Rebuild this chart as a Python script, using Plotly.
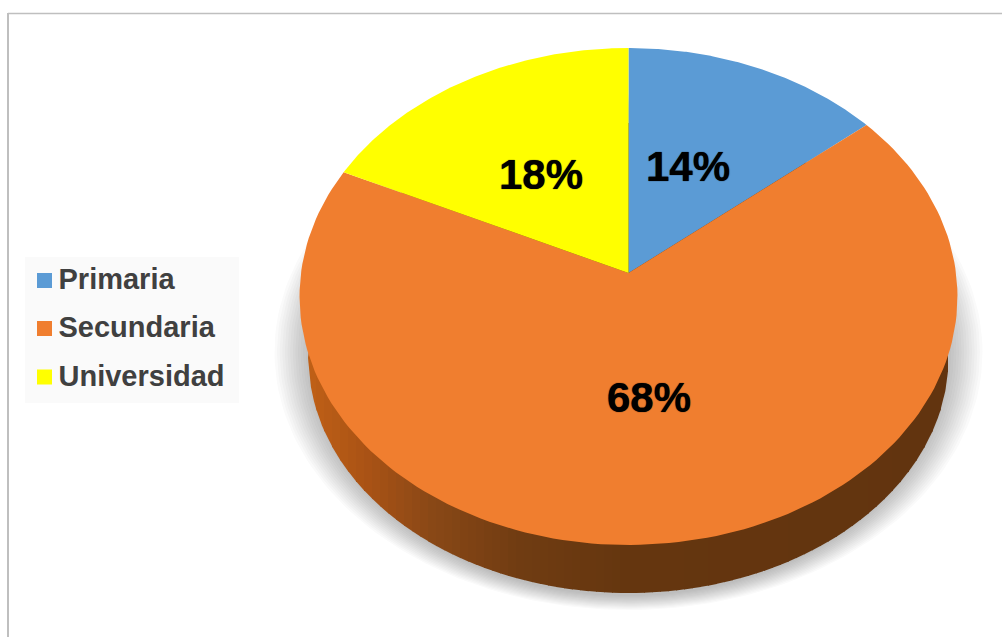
import numpy as np
import plotly.graph_objects as go

# Data
categories = ["Primaria", "Secundaria", "Universidad"]
percentages = [14, 68, 18]
slice_colors = ["#5B9BD5", "#F07E2F", "#FFFF00"]

# Canvas and tilted-disc geometry, in pixels
WIDTH, HEIGHT = 1002, 637
APEX_X, APEX_Y = 628.5, 273      # where the slices meet
TOP_RISE, BOTTOM_DROP = 225, 272  # apex to far rim / near rim
HALF_WIDTH = 327.5
PERSPECTIVE = (BOTTOM_DROP - TOP_RISE) / (BOTTOM_DROP + TOP_RISE)
VERTICAL_SCALE = TOP_RISE * (1 + PERSPECTIVE)

# Rim of the underside of the disc
BASE_CY, BASE_RX, BASE_RY = 358, 320, 235

LABEL_CENTRES = {"Primaria": (688, 170), "Secundaria": (649, 401), "Universidad": (541, 178)}
SWATCH_X = 44.5
LEGEND_TEXT_X = 58.5
SWATCH_ROWS = [280.5, 328.5, 377]
LEGEND_TEXT_ROWS = [282, 330, 379]

# Side-wall shading: x position and colour stops
WALL_STOPS_X = [308, 370, 430, 520, 628, 948]
WALL_STOPS_RGB = [(192, 96, 22), (168, 82, 21), (138, 72, 22), (112, 60, 18), (101, 54, 15), (98, 52, 15)]


def project(theta):
    """Map clockwise-from-north angles on the disc onto the tilted view."""
    u, v = np.sin(theta), np.cos(theta)
    d = 1 + PERSPECTIVE * v
    return APEX_X + HALF_WIDTH * u / d, APEX_Y - VERTICAL_SCALE * v / d


def ellipse(cx, cy, rx, ry, n=240):
    t = np.linspace(0, 2 * np.pi, n)
    return cx + rx * np.cos(t), cy + ry * np.sin(t)


def filled(x, y, color):
    return go.Scatter(
        x=x, y=y, mode="lines", fill="toself", fillcolor=color,
        line=dict(width=0), hoverinfo="skip", showlegend=False,
    )


fig = go.Figure()

# Soft drop shadow: stacked translucent ellipses
for t in np.linspace(0, 1, 14):
    x, y = ellipse(APEX_X, 352, 354 - 34 * t, 258 - 14 * t)
    fig.add_trace(filled(x, y, "rgba(45,50,55,0.022)"))

# Side wall, shaded left to right in thin vertical strips
edges = np.linspace(WALL_STOPS_X[0], WALL_STOPS_X[-1], 81)
for left, right in zip(edges[:-1], edges[1:]):
    xs = np.linspace(left, min(right + 0.8, WALL_STOPS_X[-1]), 4)
    half = BASE_RY * np.sqrt(np.clip(1 - ((xs - APEX_X) / BASE_RX) ** 2, 0, 1))
    mid = (left + right) / 2
    rgb = [np.interp(mid, WALL_STOPS_X, [c[i] for c in WALL_STOPS_RGB]) for i in range(3)]
    fig.add_trace(filled(
        np.r_[xs, xs[::-1]],
        np.r_[BASE_CY - half, (BASE_CY + half)[::-1]],
        "rgb({:.0f},{:.0f},{:.0f})".format(*rgb),
    ))

# Top face: one wedge per category
fractions = np.cumsum([0] + percentages) / sum(percentages)
for start, end, color in zip(fractions[:-1], fractions[1:], slice_colors):
    theta = 2 * np.pi * np.linspace(start, end, 160)
    rim_x, rim_y = project(theta)
    fig.add_trace(filled(np.r_[APEX_X, rim_x, APEX_X], np.r_[APEX_Y, rim_y, APEX_Y], color))

# Percentage labels
fig.add_trace(go.Scatter(
    x=[LABEL_CENTRES[c][0] for c in categories],
    y=[LABEL_CENTRES[c][1] for c in categories],
    mode="text",
    text=[f"{p}%" for p in percentages],
    textposition="middle center",
    textfont=dict(family="Liberation Sans", size=42, color="#000000", weight="bold",
                  shadow="0 0 1px #000000"),
    hoverinfo="skip", showlegend=False,
))

# Legend: square swatches and category names
fig.add_trace(go.Scatter(
    x=[SWATCH_X] * len(categories), y=SWATCH_ROWS,
    mode="markers",
    marker=dict(symbol="square", size=15, color=slice_colors, line=dict(width=0)),
    hoverinfo="skip", showlegend=False,
))
fig.add_trace(go.Scatter(
    x=[LEGEND_TEXT_X] * len(categories), y=LEGEND_TEXT_ROWS,
    mode="text",
    text=categories,
    textposition="middle right",
    textfont=dict(family="Liberation Sans", size=29, color="#404040", weight="bold"),
    hoverinfo="skip", showlegend=False,
))

fig.update_layout(
    width=WIDTH, height=HEIGHT,
    margin=dict(l=0, r=0, t=0, b=0),
    paper_bgcolor="white", plot_bgcolor="white",
    showlegend=False,
    xaxis=dict(range=[0, WIDTH], visible=False, fixedrange=True),
    yaxis=dict(range=[HEIGHT, 0], visible=False, fixedrange=True),
    shapes=[
        # Legend backdrop
        dict(type="rect", layer="below", x0=25, x1=239, y0=257, y1=403,
             fillcolor="#FAFAFA", line=dict(width=0)),
        # Chart frame (top and left edges)
        dict(type="line", layer="below", x0=8, x1=WIDTH, y0=13.5, y1=13.5,
             line=dict(color="#BFBFBF", width=1.5)),
        dict(type="line", layer="below", x0=8, x1=8, y0=13, y1=HEIGHT,
             line=dict(color="#BFBFBF", width=2)),
    ],
)

fig.write_html("out.html")
